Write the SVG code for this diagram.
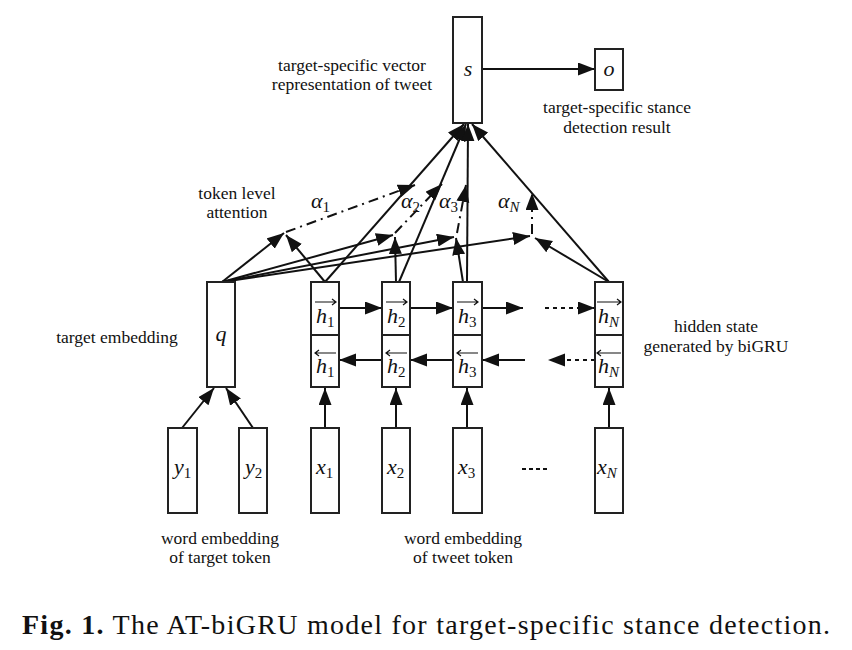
<svg xmlns="http://www.w3.org/2000/svg" width="852" height="650" viewBox="0 0 852 650">
<defs>
<marker id="ah" markerUnits="userSpaceOnUse" markerWidth="20" markerHeight="14" refX="17" refY="6.5" orient="auto"><path d="M0,0 L17,6.5 L0,13 z" fill="#111"/></marker>
<style>
.box{fill:#fff;stroke:#222;stroke-width:2}
.ln{fill:none;stroke:#111;stroke-width:2}
.dd{stroke-dasharray:10 5 2 5}
.dot{stroke-dasharray:4 4}
.acc{fill:none;stroke:#111;stroke-width:1.2}
.lbl{font-family:"Liberation Serif",serif;font-size:17.5px;fill:#111;text-anchor:middle}
.m{font-family:"Liberation Serif",serif;font-style:italic;font-size:22px;fill:#111}
.sub{font-size:15px;font-style:normal}
.subi{font-size:15px;font-style:italic}
.cap{font-family:"Liberation Serif",serif;font-size:28px;fill:#111}
</style>
</defs>
<rect width="852" height="650" fill="#fff"/>

<g id="connectors">
<line class="ln" x1="482" y1="69" x2="595" y2="69" marker-end="url(#ah)"/>
<line class="ln" x1="325" y1="282" x2="464" y2="124" marker-end="url(#ah)"/>
<line class="ln" x1="399" y1="282" x2="466" y2="124" marker-end="url(#ah)"/>
<line class="ln" x1="467" y1="282" x2="468" y2="124" marker-end="url(#ah)"/>
<line class="ln" x1="609" y1="282" x2="472" y2="124" marker-end="url(#ah)"/>
<line class="ln" x1="222" y1="282" x2="284" y2="233" marker-end="url(#ah)"/>
<line class="ln" x1="222" y1="282" x2="393" y2="235" marker-end="url(#ah)"/>
<line class="ln" x1="222" y1="282" x2="454" y2="237" marker-end="url(#ah)"/>
<line class="ln" x1="222" y1="282" x2="530" y2="236" marker-end="url(#ah)"/>
<line class="ln" x1="325" y1="282" x2="286" y2="235" marker-end="url(#ah)"/>
<line class="ln" x1="396" y1="282" x2="395" y2="237" marker-end="url(#ah)"/>
<line class="ln" x1="463" y1="282" x2="456" y2="238" marker-end="url(#ah)"/>
<line class="ln" x1="609" y1="282" x2="535" y2="238" marker-end="url(#ah)"/>
<line class="ln dd" x1="286" y1="232" x2="415" y2="185" marker-end="url(#ah)"/>
<line class="ln dd" x1="395" y1="233" x2="442" y2="184" marker-end="url(#ah)"/>
<line class="ln dd" x1="457" y1="233" x2="466" y2="185" marker-end="url(#ah)"/>
<line class="ln dd" x1="532" y1="234" x2="532" y2="193" marker-end="url(#ah)"/>
<line class="ln" x1="339" y1="308" x2="382" y2="308" marker-end="url(#ah)"/>
<line class="ln" x1="410" y1="308" x2="453" y2="308" marker-end="url(#ah)"/>
<line class="ln" x1="482" y1="308" x2="523" y2="308" marker-end="url(#ah)"/>
<line class="ln dot" x1="545" y1="308" x2="595" y2="308" marker-end="url(#ah)"/>
<line class="ln" x1="382" y1="360" x2="339" y2="360" marker-end="url(#ah)"/>
<line class="ln" x1="453" y1="360" x2="410" y2="360" marker-end="url(#ah)"/>
<line class="ln" x1="525" y1="360" x2="482" y2="360" marker-end="url(#ah)"/>
<line class="ln dot" x1="595" y1="360" x2="548" y2="360" marker-end="url(#ah)"/>
<line class="ln" x1="182" y1="428" x2="214" y2="388" marker-end="url(#ah)"/>
<line class="ln" x1="253" y1="428" x2="226" y2="388" marker-end="url(#ah)"/>
<line class="ln" x1="325" y1="428" x2="325" y2="388" marker-end="url(#ah)"/>
<line class="ln" x1="396" y1="428" x2="396" y2="388" marker-end="url(#ah)"/>
<line class="ln" x1="467" y1="428" x2="467" y2="388" marker-end="url(#ah)"/>
<line class="ln" x1="609" y1="428" x2="609" y2="388" marker-end="url(#ah)"/>
</g>

<g id="s"><rect class="box" x="453" y="17" width="29" height="106"/><text class="m" x="468" y="76" text-anchor="middle">s</text></g>
<g id="o"><rect class="box" x="595" y="49" width="28" height="41"/><text class="m" x="609" y="76" text-anchor="middle">o</text></g>
<g id="q"><rect class="box" x="207" y="282" width="28" height="105"/><text class="m" x="221" y="341" text-anchor="middle">q</text></g>

<g id="h1">
<rect class="box" x="311" y="282" width="28" height="53"/><rect class="box" x="311" y="335" width="28" height="52"/>
<path class="acc" d="M315,302 H336 M332,299 L336,302 L332,305"/>
<text class="m" x="316" y="323">h<tspan class="sub" dy="4">1</tspan></text>
<path class="acc" d="M315,353 H336 M319,350 L315,353 L319,356"/>
<text class="m" x="316" y="373">h<tspan class="sub" dy="4">1</tspan></text>
</g>
<g id="h2">
<rect class="box" x="382" y="282" width="28" height="53"/><rect class="box" x="382" y="335" width="28" height="52"/>
<path class="acc" d="M386,302 H407 M403,299 L407,302 L403,305"/>
<text class="m" x="387" y="323">h<tspan class="sub" dy="4">2</tspan></text>
<path class="acc" d="M386,353 H407 M390,350 L386,353 L390,356"/>
<text class="m" x="387" y="373">h<tspan class="sub" dy="4">2</tspan></text>
</g>
<g id="h3">
<rect class="box" x="453" y="282" width="29" height="53"/><rect class="box" x="453" y="335" width="29" height="52"/>
<path class="acc" d="M457,302 H478 M474,299 L478,302 L474,305"/>
<text class="m" x="458" y="323">h<tspan class="sub" dy="4">3</tspan></text>
<path class="acc" d="M457,353 H478 M461,350 L457,353 L461,356"/>
<text class="m" x="458" y="373">h<tspan class="sub" dy="4">3</tspan></text>
</g>
<g id="hN">
<rect class="box" x="595" y="282" width="28" height="53"/><rect class="box" x="595" y="335" width="28" height="52"/>
<path class="acc" d="M597,302 H621 M617,299 L621,302 L617,305"/>
<text class="m" x="598" y="323">h<tspan class="subi" dy="4">N</tspan></text>
<path class="acc" d="M597,353 H621 M601,350 L597,353 L601,356"/>
<text class="m" x="598" y="373">h<tspan class="subi" dy="4">N</tspan></text>
</g>

<g id="y1"><rect class="box" x="168" y="428" width="29" height="85"/><text class="m" x="174" y="474">y<tspan class="sub" dy="4">1</tspan></text></g>
<g id="y2"><rect class="box" x="239" y="428" width="28" height="85"/><text class="m" x="245" y="474">y<tspan class="sub" dy="4">2</tspan></text></g>
<g id="x1"><rect class="box" x="311" y="428" width="28" height="85"/><text class="m" x="316" y="474">x<tspan class="sub" dy="4">1</tspan></text></g>
<g id="x2"><rect class="box" x="382" y="428" width="28" height="85"/><text class="m" x="387" y="474">x<tspan class="sub" dy="4">2</tspan></text></g>
<g id="x3"><rect class="box" x="453" y="428" width="29" height="85"/><text class="m" x="458" y="474">x<tspan class="sub" dy="4">3</tspan></text></g>
<g id="xN"><rect class="box" x="595" y="428" width="28" height="85"/><text class="m" x="597" y="474">x<tspan class="subi" dy="4">N</tspan></text></g>
<line x1="522" y1="469" x2="549" y2="469" stroke="#111" stroke-width="2" stroke-dasharray="4 3"/>

<g id="alphas">
<text class="m" x="311" y="208">α<tspan class="sub" dy="4">1</tspan></text>
<text class="m" x="401" y="208">α<tspan class="sub" dy="4">2</tspan></text>
<text class="m" x="439" y="208">α<tspan class="sub" dy="4">3</tspan></text>
<text class="m" x="498" y="208">α<tspan class="subi" dy="4">N</tspan></text>
</g>

<g id="labels">
<text class="lbl" x="352" y="71">target-specific vector</text>
<text class="lbl" x="352" y="90">representation of tweet</text>
<text class="lbl" x="617" y="113">target-specific stance</text>
<text class="lbl" x="617" y="133">detection result</text>
<text class="lbl" x="237" y="199">token level</text>
<text class="lbl" x="237" y="218">attention</text>
<text class="lbl" x="117" y="343">target embedding</text>
<text class="lbl" x="716" y="332">hidden state</text>
<text class="lbl" x="716" y="352">generated by biGRU</text>
<text class="lbl" x="220" y="544">word embedding</text>
<text class="lbl" x="220" y="563">of target token</text>
<text class="lbl" x="463" y="544">word embedding</text>
<text class="lbl" x="463" y="563">of tweet token</text>
</g>

<text class="cap" x="22" y="634" textLength="808" lengthAdjust="spacing"><tspan font-weight="bold">Fig. 1.</tspan> The AT-biGRU model for target-specific stance detection.</text>
</svg>
